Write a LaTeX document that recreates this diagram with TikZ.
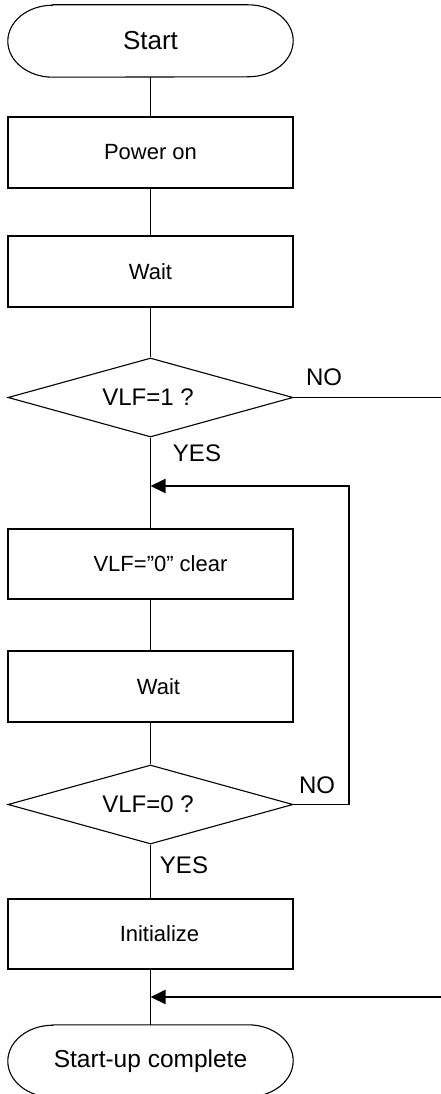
\documentclass[tikz,border=0pt]{standalone}
\usepackage{fontspec}
\setmainfont{Liberation Sans}
\usetikzlibrary{arrows.meta,shapes.geometric}
\begin{document}
\begin{tikzpicture}[x=1pt,y=-1pt,
  thin line/.style={line width=1.1pt},
  thick arrow/.style={line width=2pt,-{Triangle[length=15pt,width=14pt]}},
  box/.style={draw,thin line,rectangle,minimum width=285pt,minimum height=71pt,inner sep=0pt,font=\fontsize{22}{26}\selectfont},
  term/.style={rectangle,minimum width=285pt,minimum height=72pt,inner sep=0pt},
  dec/.style={draw,thin line,diamond,shape aspect=3.6,minimum width=285pt,minimum height=79pt,inner sep=0pt,font=\fontsize{24}{28}\selectfont},
  lbl/.style={inner sep=0pt,font=\fontsize{24}{28}\selectfont}]
\useasboundingbox (0,0) rectangle (441,1094);
\fill[white] (0,0) rectangle (441,1094);
% nodes
\node[term,font=\fontsize{26}{30}\selectfont] (start) at (150.5,41) {Start};
\node[box] (p1) at (150.5,152.5) {Power on};
\node[box] (w1) at (150.5,271.5) {Wait};
\node[dec] (d1) at (150.5,397.5) {\hspace*{-5pt}VLF=1 ?};
\node[box,minimum height=70pt] (c1) at (150.5,564) {\hspace*{20pt}VLF=”0” clear};
\node[box] (w2) at (150.5,686.5) {\hspace*{16pt}Wait};
\node[dec] (d2) at (150.5,804.5) {\hspace*{-5pt}VLF=0 ?};
\node[box,minimum height=70pt] (init) at (150.5,934) {\hspace*{18pt}Initialize};
\node[term,font=\fontsize{24.5}{28}\selectfont] (stop) at (150.5,1061) {Start-up complete};
% terminal outlines
\foreach \t in {start,stop}{
  \draw[thin line] ([xshift=45pt]\t.north west) -- ([xshift=-45pt]\t.north east)
    arc[start angle=90,end angle=-90,x radius=45pt,y radius=36pt]
    -- ([xshift=45pt]\t.south west)
    arc[start angle=270,end angle=90,x radius=45pt,y radius=36pt] -- cycle;
}
% labels
\node[lbl] (no1) at (324,377) {NO};
\node[lbl] (yes1) at (197,453) {YES};
\node[lbl] (no2) at (317,785) {NO};
\node[lbl] (yes2) at (184,865) {YES};
% coordinates
\coordinate (n1) at (441,397.5);
\coordinate (lp) at (349,486);
\coordinate (j1) at (150.5,486);
\coordinate (n2) at (441,997);
\coordinate (j2) at (150.5,997);
% connectors
\draw[thin line] (start.south) -- (p1.north);
\draw[thin line] (p1.south) -- (w1.north);
\draw[thin line] (w1.south) -- (d1.north);
\draw[thin line] (d1.south) -- (c1.north);
\draw[thin line] (d1.east) -- (n1);
\draw[thin line] (c1.south) -- (w2.north);
\draw[thin line] (w2.south) -- (d2.north);
\draw[thin line] (d2.east) -| (lp);
\draw[thick arrow] ([xshift=1pt]lp) -- (j1);
\draw[thin line] (d2.south) -- (init.north);
\draw[thin line] (init.south) -- (stop.north);
\draw[thick arrow] (n2) -- (j2);
\end{tikzpicture}
\end{document}
